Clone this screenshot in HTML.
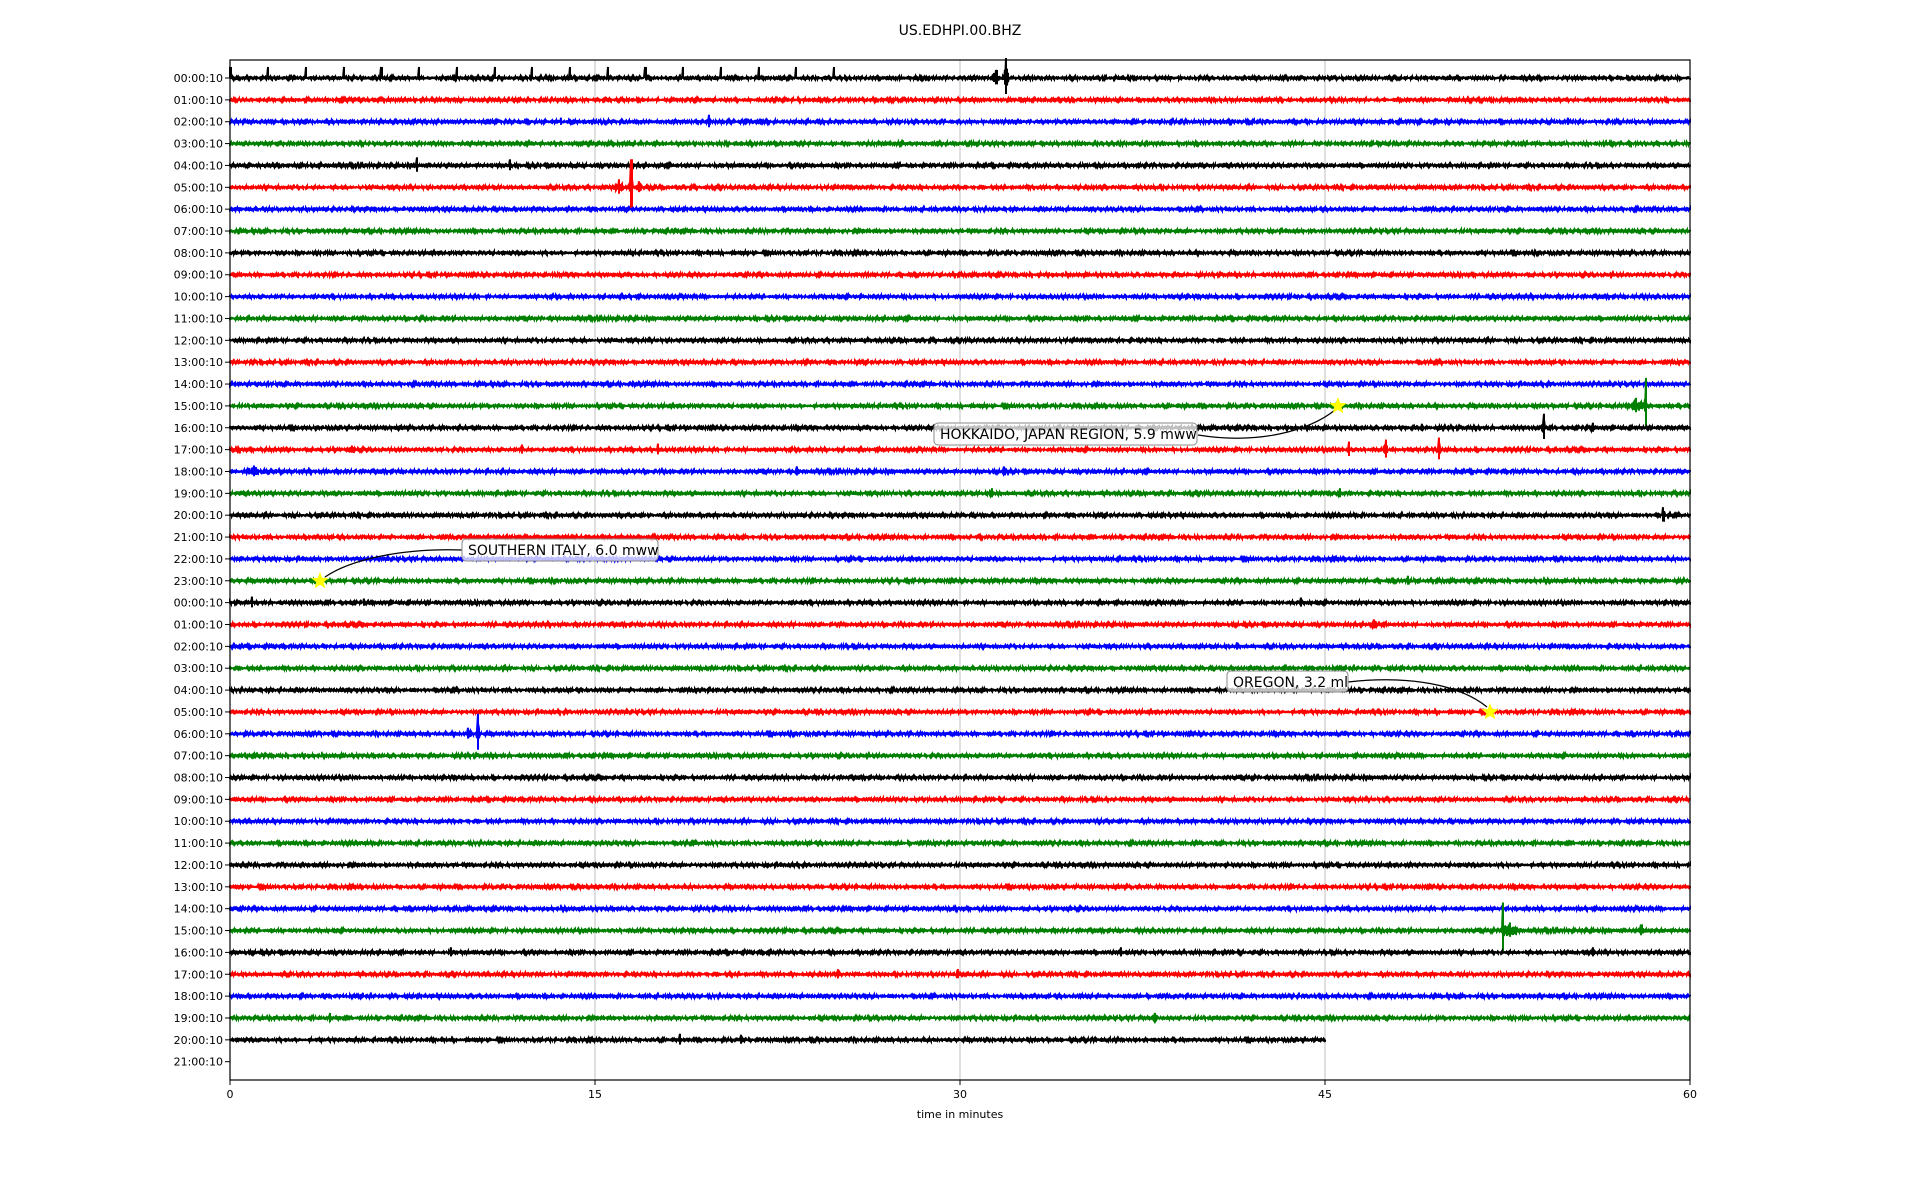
<!DOCTYPE html>
<html><head><meta charset="utf-8"><style>
html,body{margin:0;padding:0;background:#fff;}
svg{display:block;font-family:"DejaVu Sans","Liberation Sans",sans-serif;}
</style></head><body>
<svg id="s" width="1920" height="1200" xmlns="http://www.w3.org/2000/svg">
<rect width="1920" height="1200" fill="#fff"/>
<text x="960" y="35" font-size="14" text-anchor="middle">US.EDHPI.00.BHZ</text>
<g stroke="#b0b0b0" stroke-width="0.8">
<line x1="595" y1="60" x2="595" y2="1080"/><line x1="960" y1="60" x2="960" y2="1080"/><line x1="1325" y1="60" x2="1325" y2="1080"/>
</g>
<g id="tr"></g>
<g id="lab" font-size="11" text-anchor="end"></g>
<rect x="230" y="60" width="1460" height="1020" fill="none" stroke="#000" stroke-width="1.2"/>
<g stroke="#000" stroke-width="1">
<line x1="230" y1="1080" x2="230" y2="1085"/><line x1="595" y1="1080" x2="595" y2="1085"/><line x1="960" y1="1080" x2="960" y2="1085"/><line x1="1325" y1="1080" x2="1325" y2="1085"/><line x1="1690" y1="1080" x2="1690" y2="1085"/>
</g>
<g font-size="11" text-anchor="middle">
<text x="230" y="1098">0</text><text x="595" y="1098">15</text><text x="960" y="1098">30</text><text x="1325" y="1098">45</text><text x="1690" y="1098">60</text>
<text x="960" y="1118">time in minutes</text>
</g>
<g fill="none" stroke="#000" stroke-width="1.2">
<path d="M1198,435 C1260,445 1310,430 1335,410"/>
<path d="M462,550 C400,548 350,560 325,577"/>
<path d="M1348,682 C1410,675 1460,685 1487,707"/>
</g>
<g fill="#fff" fill-opacity="0.75" stroke="#888" stroke-width="1">
<rect x="934" y="423" width="263" height="22" rx="4"/>
<rect x="462" y="539" width="196" height="22" rx="4"/>
<rect x="1227" y="671" width="121" height="21" rx="4"/>
</g>
<g font-size="14" fill="#000">
<text x="940" y="439">HOKKAIDO, JAPAN REGION, 5.9 mww</text>
<text x="468" y="555">SOUTHERN ITALY, 6.0 mww</text>
<text x="1233" y="687">OREGON, 3.2 ml</text>
</g>
<g id="stars" fill="yellow"></g>
</svg>
<script>
var ns="http://www.w3.org/2000/svg";
var seed=12345;function rnd(){seed=(seed*1103515245+12345)%2147483648;return seed/2147483648;}
var cols=["#000","#f00","#00f","#008000"];
var ev={0:[[31.5,8,0.6],[31.9,20,0.15]],2:[[19.7,7,0.2],[13.6,4,0.1],[55,4,0.1]],4:[[7.7,8,0.1],[11.5,6,0.1]],
5:[[16,8,0.5],[16.5,28,0.1],[16.8,6,0.3]],15:[[57.8,8,0.8],[58.2,28,0.1],[45.5,4,0.2]],16:[[54,14,0.2],[56,5,0.3],[49,4,0.2]],
17:[[47.5,10,0.2],[49.7,12,0.15],[46,8,0.2],[5,4,0.5],[17.6,6,0.1],[12,5,0.1]],18:[[1,6,1.0],[23.3,5,0.2],[31.8,5,0.2]],
19:[[31.3,5,0.2],[45.6,5,0.2]],20:[[58.9,8,0.15]],23:[[48.4,5,0.1]],24:[[0.9,6,0.1],[5.5,4,0.3],[44,5,0.1]],
25:[[47,5,0.5]],26:[[41.4,4,0.1]],30:[[10.2,20,0.15],[9.8,6,0.4]],39:[[52.3,28,0.12],[52.6,8,0.8],[58,6,0.4]],
40:[[9.1,5,0.1],[36.6,5,0.1],[56,5,0.2]],41:[[25,5,0.2],[29.9,5,0.2]],43:[[38,5,0.3],[4.1,5,0.1]],44:[[18.5,6,0.1],[21,5,0.2]]};
var tr=document.getElementById("tr"),lab=document.getElementById("lab");
for(var r=0;r<46;r++){
 var y=78+r*21.86;
 var h=(r<24?r:r-24);var t=(h<10?"0":"")+h+":00:10";
 var tx=document.createElementNS(ns,"text");tx.setAttribute("x",223);tx.setAttribute("y",y+4);tx.textContent=t;lab.appendChild(tx);
 var tk=document.createElementNS(ns,"line");tk.setAttribute("x1",225);tk.setAttribute("x2",230);tk.setAttribute("y1",y);tk.setAttribute("y2",y);tk.setAttribute("stroke","#000");lab.appendChild(tk);
 if(r==45)continue;
 var end=(r==44)?1325:1690;
 var e=ev[r]||[];
 var d="M230,"+y.toFixed(1);
 for(var x=230;x<=end;x+=1){
  var m=(x-230)/1460*60;
  var a=1.3;
  for(var k=0;k<e.length;k++){var dd=Math.abs(m-e[k][0]);if(dd<e[k][2])a=Math.max(a,e[k][1]*Math.pow(1-dd/e[k][2],2));
    if(dd<0.021){d+=" L"+x+","+(y-e[k][1]).toFixed(1)+" L"+x+","+(y+e[k][1]*0.8).toFixed(1);}}
  var spike=(r==0&&m<26&&(m%1.55)<0.05);
  var v=(rnd()-0.5)*2*a;
  if(spike){d+=" L"+x+","+(y-11).toFixed(1)+" L"+x+","+y.toFixed(1);continue;}
  d+=" L"+x+","+(y+v).toFixed(1);
  d+=" L"+x+","+(y-v*0.8).toFixed(1);
 }
 var p=document.createElementNS(ns,"path");p.setAttribute("d",d);p.setAttribute("fill","none");p.setAttribute("stroke",cols[r%4]);p.setAttribute("stroke-width","2");tr.appendChild(p);
}
function star(cx,cy){var s="";for(var i=0;i<10;i++){var rr=i%2?3.8:9;var an=-Math.PI/2+i*Math.PI/5;s+=(cx+rr*Math.cos(an)).toFixed(1)+","+(cy+rr*Math.sin(an)).toFixed(1)+" ";}
var p=document.createElementNS(ns,"polygon");p.setAttribute("points",s);document.getElementById("stars").appendChild(p);}
star(1338,406);star(320,581);star(1490,712);
</script>
</body></html>
